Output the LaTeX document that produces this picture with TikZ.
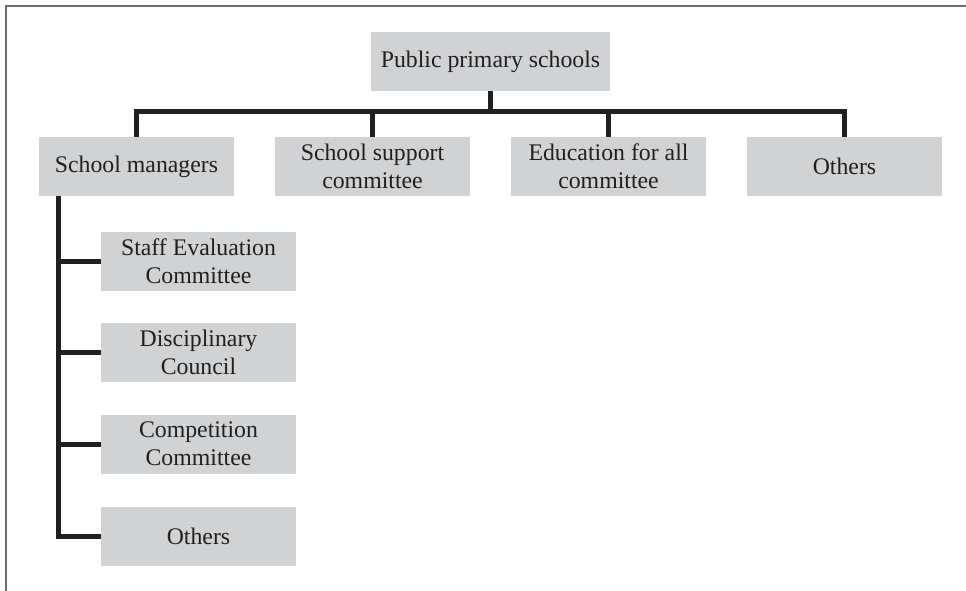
\documentclass[tikz,border=0pt]{standalone}
\usepackage{fontspec}
\setmainfont{Liberation Serif}
\definecolor{boxgray}{HTML}{D1D2D4}
\definecolor{framegray}{HTML}{6B6B6B}
\definecolor{linek}{HTML}{231F20}
\begin{document}
\begin{tikzpicture}[x=1pt,y=-1pt,
  box/.style={fill=boxgray,draw=none,minimum width=195pt,minimum height=59pt,inner sep=0pt,align=center,
    font=\fontsize{23.8}{28}\selectfont,text=linek},
  conn/.style={draw=linek,line width=5pt}]
\useasboundingbox (0,0) rectangle (966,591);
\draw[framegray,line width=2pt] (5.8,591) -- (5.8,5.8) -- (966,5.8);
\node[box,minimum width=239pt] (top) at (490.5,61.5) {Public primary schools};
\node[box] (sm) at (136.5,166.5) {School managers};
\node[box] (ssc) at (372.5,166.5) {School support\\committee};
\node[box] (efa) at (608.5,166.5) {Education for all\\committee};
\node[box] (oth) at (844.5,166.5) {Others};
\node[box] (sec) at (198.5,261.5) {Staff Evaluation\\Committee};
\node[box] (dc) at (198.5,352.5) {Disciplinary\\Council};
\node[box] (cc) at (198.5,444) {Competition\\Committee};
\node[box] (o2) at (198.5,536.5) {Others};
\coordinate (bar) at (490.5,112);
\draw[conn] (top.south) -- (bar);
\draw[conn] (sm.north) -- (sm.north |- bar) -- (oth.north |- bar) -- (oth.north);
\draw[conn] (ssc.north |- bar) -- (ssc.north);
\draw[conn] (efa.north |- bar) -- (efa.north);
\coordinate (vx) at (58.5,0);
\draw[conn] (vx |- sm.south) -- (vx |- o2.west) -- (o2.west);
\draw[conn] (vx |- sec.west) -- (sec.west);
\draw[conn] (vx |- dc.west) -- (dc.west);
\draw[conn] (vx |- cc.west) -- (cc.west);
\end{tikzpicture}
\end{document}
